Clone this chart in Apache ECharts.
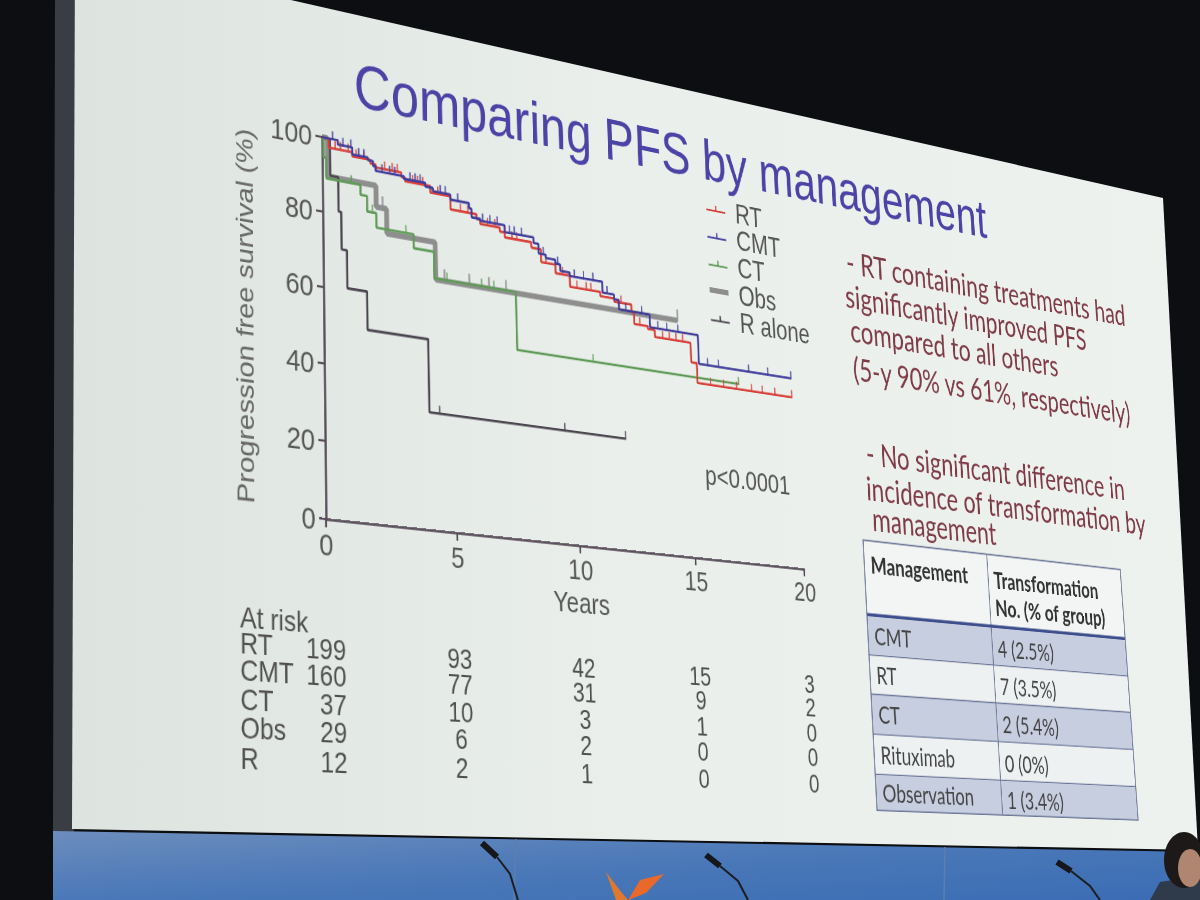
<!DOCTYPE html>
<html>
<head>
<meta charset="utf-8">
<title>Comparing PFS by management</title>
<script src="https://cdn.jsdelivr.net/npm/echarts@6/dist/echarts.min.js"></script>
<style>
  html, body { margin: 0; padding: 0; width: 1200px; height: 900px; overflow: hidden; background: #0c0e12; }
  #bg { position: absolute; left: 0; top: 0; width: 1200px; height: 900px; }
  #slide { position: absolute; left: 0; top: 0; width: 1600px; height: 900px; transform-origin: 0 0; }
</style>
</head>
<body>
<div id="bg"></div>
<div id="slide"></div>
<script>
// ---- data (years, % progression free) ----
var rtTime = [0, 0.25, 1.15, 1.85, 2.05, 3.05, 3.2, 4.2, 5.0, 6.05, 6.2, 7.0, 7.2, 8.3, 8.7, 9.3, 9.9, 11.2, 11.8, 12.55, 12.65, 13.25, 13.55, 15.15, 15.4, 19.8];
var rtSurv = [100, 97.5, 96.4, 95.4, 94.6, 93.4, 92.4, 90.6, 87.0, 85.7, 84.5, 83.4, 82.0, 80.5, 76.9, 74.5, 71.4, 70.2, 69.3, 67.1, 63.9, 63.1, 61.1, 55.5, 49.8, 49.8];
var rtCens = [0.5, 0.7, 1.0, 1.3, 1.6, 2.4, 2.7, 2.9, 3.5, 3.7, 3.9, 4.5, 5.4, 5.7, 6.5, 6.8, 7.5, 7.7, 8.9, 9.6, 10.2, 10.6, 10.8, 12.1, 12.9, 13.9, 14.2, 14.5, 14.8, 16.0, 16.6, 17.2, 17.9, 18.4, 19.0, 19.8];

var cmtTime = [0, 0.6, 1.15, 1.75, 1.95, 2.05, 3.15, 4.0, 4.3, 5.0, 5.75, 5.85, 6.2, 7.2, 8.4, 8.6, 8.9, 9.3, 9.5, 9.9, 11.3, 11.8, 12.0, 13.35, 15.5, 19.8];
var cmtSurv = [100, 98.8, 96.9, 96.2, 94.9, 93.7, 93.0, 92.0, 91.1, 89.7, 88.3, 85.9, 85.4, 83.5, 81.9, 79.2, 78.3, 77.2, 75.4, 74.4, 71.3, 70.0, 67.3, 63.7, 55.4, 55.4];
var cmtCens = [0.4, 0.8, 1.1, 1.4, 1.6, 2.3, 2.6, 2.8, 3.4, 3.6, 3.8, 4.6, 4.8, 5.3, 6.3, 6.6, 6.9, 7.4, 7.6, 7.9, 8.8, 9.4, 10.1, 10.5, 10.9, 11.5, 12.3, 13.0, 13.7, 14.1, 14.6, 15.9, 16.4, 17.8, 18.7, 19.8];

var ctTime = [0, 0.05, 0.15, 1.45, 1.7, 2.05, 3.5, 4.3, 7.6, 17.3];
var ctSurv = [100, 94.6, 89.1, 86.4, 82.2, 78.3, 74.5, 67.3, 51.3, 51.3];
var ctCens = [1.1, 1.9, 3.2, 4.8, 6.2, 6.7, 10.8, 17.3];

var obsTime = [0, 0.2, 2.05, 2.45, 4.35, 14.6];
var obsSurv = [100, 89.7, 83.9, 77.2, 67.0, 67.0];
var obsCens = [2.3, 4.7, 5.7, 6.5, 7.2, 14.6];

var rTime = [0, 0.3, 0.6, 0.7, 0.9, 1.65, 4.0, 12.1];
var rSurv = [100, 90, 80.8, 70.8, 60.7, 50.5, 31.0, 31.0];
var rCens = [4.4, 9.5, 12.1];

var riskYears = [0, 5, 10, 15, 20];
var riskLabels = ['RT', 'CMT', 'CT', 'Obs', 'R'];
var riskRT = [199, 93, 42, 15, 3];
var riskCMT = [160, 77, 31, 9, 2];
var riskCT = [37, 10, 3, 1, 0];
var riskObs = [29, 6, 2, 0, 0];
var riskR = [12, 2, 1, 0, 0];

var notes = ['- RT containing treatments had', 'significantly improved PFS', 'compared to all others',
  '(5-y 90% vs 61%, respectively)', '- No significant difference in', 'incidence of transformation by', 'management'];
var tableMgmt = ['CMT', 'RT', 'CT', 'Rituximab', 'Observation'];
var tableTrans = ['4 (2.5%)', '7 (3.5%)', '2 (5.4%)', '0 (0%)', '1 (3.4%)'];

// ---- perspective of the photographed screen ----
function homography(src, dst) {
  var A = [], b = [];
  for (var i = 0; i < 4; i++) {
    var x = src[i][0], y = src[i][1], X = dst[i][0], Y = dst[i][1];
    A.push([x, y, 1, 0, 0, 0, -x * X, -y * X]); b.push(X);
    A.push([0, 0, 0, x, y, 1, -x * Y, -y * Y]); b.push(Y);
  }
  for (var c = 0; c < 8; c++) {
    var p = c;
    for (var r = c + 1; r < 8; r++) if (Math.abs(A[r][c]) > Math.abs(A[p][c])) p = r;
    var t = A[c]; A[c] = A[p]; A[p] = t; t = b[c]; b[c] = b[p]; b[p] = t;
    for (r = c + 1; r < 8; r++) {
      var f = A[r][c] / A[c][c];
      for (var k = c; k < 8; k++) A[r][k] -= f * A[c][k];
      b[r] -= f * b[c];
    }
  }
  var h = [];
  for (r = 7; r >= 0; r--) {
    var s = b[r];
    for (k = r + 1; k < 8; k++) s -= A[r][k] * h[k];
    h[r] = s / A[r][r];
  }
  return [[h[0], h[1], h[2]], [h[3], h[4], h[5]], [h[6], h[7], 1]];
}
function inv3(m) {
  var a = m[0][0], b = m[0][1], c = m[0][2], d = m[1][0], e = m[1][1], f = m[1][2], g = m[2][0], h = m[2][1], i = m[2][2];
  var A = e * i - f * h, B = -(d * i - f * g), C = d * h - e * g;
  var det = a * A + b * B + c * C;
  return [[A / det, -(b * i - c * h) / det, (b * f - c * e) / det],
          [B / det, (a * i - c * g) / det, -(a * f - c * d) / det],
          [C / det, -(a * h - b * g) / det, (a * e - b * d) / det]];
}
function mul(M, x, y) {
  var w = M[2][0] * x + M[2][1] * y + M[2][2];
  return [(M[0][0] * x + M[0][1] * y + M[0][2]) / w, (M[1][0] * x + M[1][1] * y + M[1][2]) / w];
}

var grid = { left: 300, top: 130, width: 640, height: 380 };
var flatPlot = [[300, 130], [940, 130], [940, 510], [300, 510]];
var photoPlot = [[322, 137], [788, 230], [804, 569], [326, 519]];
var H = homography(flatPlot, photoPlot);
var slideEl = document.getElementById('slide');
slideEl.style.transform = 'matrix3d(' + [H[0][0], H[1][0], 0, H[2][0], H[0][1], H[1][1], 0, H[2][1],
  0, 0, 1, 0, H[0][2], H[1][2], 0, H[2][2]].join(',') + ')';
var Hi = inv3(H);
function F(X, Y) { return mul(Hi, X, Y); }

// ---- room behind the screen ----
var bg = echarts.init(document.getElementById('bg'), null, { renderer: 'svg' });
var LG = echarts.graphic.LinearGradient;
bg.setOption({
  animation: false,
  graphic: [
    { type: 'rect', shape: { x: 0, y: 0, width: 1200, height: 900 }, style: { fill: '#0c0e12' } },
    { type: 'polygon', shape: { points: [[55, 0], [76, 0], [74, 832], [53, 832]] }, style: { fill: '#3a3e44' } },
    { type: 'polygon', shape: { points: [[53, 831], [1200, 852], [1200, 900], [53, 900]] },
      style: { fill: new LG(0, 0, 1, 1, [{ offset: 0, color: '#6c8dbd' }, { offset: 0.5, color: '#4a78b8' }, { offset: 1, color: '#3b6cb4' }]) } },
    { type: 'line', shape: { x1: 516, y1: 839, x2: 514, y2: 900 }, style: { stroke: '#5d7fae', lineWidth: 1.5 } },
    { type: 'line', shape: { x1: 945, y1: 847, x2: 944, y2: 900 }, style: { stroke: '#5d7fae', lineWidth: 1.5 } },
    { type: 'polygon', shape: { points: [[75, -49], [1163, 198], [1198, 850], [72, 829]] },
      style: { fill: new LG(0, 0, 1, 0, [{ offset: 0, color: '#dde3df' }, { offset: 0.5, color: '#eaefeb' }, { offset: 1, color: '#eef2ef' }]) } },
    { type: 'polyline', shape: { points: [[482, 843], [497, 857]] }, style: { stroke: '#15171b', lineWidth: 6 } },
    { type: 'polyline', shape: { points: [[497, 857], [510, 874], [518, 900]] }, style: { stroke: '#1c1e22', lineWidth: 2, fill: null } },
    { type: 'polyline', shape: { points: [[706, 855], [720, 866]] }, style: { stroke: '#15171b', lineWidth: 6 } },
    { type: 'polyline', shape: { points: [[720, 866], [738, 881], [748, 900]] }, style: { stroke: '#1c1e22', lineWidth: 2, fill: null } },
    { type: 'polyline', shape: { points: [[1057, 862], [1071, 871]] }, style: { stroke: '#15171b', lineWidth: 6 } },
    { type: 'polyline', shape: { points: [[1071, 871], [1090, 886], [1100, 900]] }, style: { stroke: '#1c1e22', lineWidth: 2, fill: null } },
    { type: 'polygon', shape: { points: [[606, 872], [622, 893], [628, 900], [616, 900]] }, style: { fill: '#e0782e' } },
    { type: 'polygon', shape: { points: [[628, 900], [640, 880], [664, 874], [646, 893]] }, style: { fill: '#e8692a' } },
    { type: 'polygon', shape: { points: [[1150, 900], [1160, 882], [1200, 876], [1200, 900]] }, style: { fill: '#2f3a4a' } },
    { type: 'ellipse', shape: { cx: 1184, cy: 860, rx: 20, ry: 28 }, style: { fill: '#1d1919' } },
    { type: 'ellipse', shape: { cx: 1190, cy: 868, rx: 12, ry: 19 }, style: { fill: '#b08670' } }
  ]
});

// ---- the slide itself, drawn flat and tilted by the css transform ----
var chart = echarts.init(slideEl, null, { renderer: 'svg' });
var fontAx = '"Liberation Sans", Arial, sans-serif';
var fontTx = 'Lato, "Open Sans", sans-serif';
var axisColor = '#564b57';
var colors = { RT: '#d8413b', CMT: '#403d9b', CT: '#5f9b57', Obs: '#8e8e8e', R: '#4c4650' };

function survAt(T, S, t) {
  var v = S[0];
  for (var i = 0; i < T.length; i++) if (T[i] <= t) v = S[i];
  return v;
}
function stepSeries(name, T, S, color, width, z) {
  return {
    name: name, type: 'line', step: 'end', showSymbol: false, symbol: 'none', z: z, silent: true,
    data: T.map(function (t, i) { return [t, S[i]]; }),
    lineStyle: { color: color, width: width }, itemStyle: { color: color }
  };
}
function censorSeries(name, T, S, C, color, size, z) {
  return {
    name: name, type: 'scatter', symbol: 'rect', symbolSize: size, symbolOffset: [0, -size[1] / 2 + 1], z: z, silent: true,
    data: C.map(function (t) { return [t, survAt(T, S, t)]; }), itemStyle: { color: color }
  };
}

var yName = F(245, 299), xName = F(585, 603);
var leg0 = F(703, 209), leg4 = F(703, 326);
var legRow = (leg4[1] - leg0[1]) / 4;
var tickIcon = 'path://M0,5h28v2H0z M13,0h2v6h-2z';

chart.setOption({
  animation: false,
  textStyle: { fontFamily: fontAx },
  grid: { left: grid.left, top: grid.top, width: grid.width, height: grid.height, outerBoundsMode: 'none' },
  xAxis: {
    type: 'value', min: 0, max: 20, interval: 5,
    axisLine: { show: true, lineStyle: { color: axisColor, width: 2.6 } },
    axisTick: { show: true, length: 8, lineStyle: { color: axisColor, width: 2.2 } },
    axisLabel: { fontSize: 30, color: '#575757', margin: 9, fontFamily: fontAx },
    splitLine: { show: false },
    name: 'Years', nameLocation: 'middle', nameGap: xName[1] - 510 - 15,
    nameTextStyle: { fontSize: 30, color: '#575757', fontFamily: fontAx }
  },
  yAxis: {
    type: 'value', min: 0, max: 100, interval: 20,
    axisLine: { show: true, lineStyle: { color: axisColor, width: 2.6 } },
    axisTick: { show: true, length: 8, lineStyle: { color: axisColor, width: 2.2 } },
    axisLabel: { fontSize: 30, color: '#575757', margin: 12, fontFamily: fontAx },
    splitLine: { show: false },
    name: 'Progression free survival (%)', nameLocation: 'middle', nameRotate: 90,
    nameGap: grid.left - yName[0] - 14,
    nameTextStyle: { fontSize: 28.5, color: '#666', fontFamily: fontAx }
  },
  legend: {
    orient: 'vertical', left: leg0[0], top: leg0[1] - 24, itemGap: legRow - 34,
    itemWidth: 28, itemHeight: 7, selectedMode: false,
    data: [
      { name: 'RT', icon: tickIcon }, { name: 'CMT', icon: tickIcon }, { name: 'CT', icon: tickIcon },
      { name: 'Obs', icon: 'path://M0,0h28v6H0z' }, { name: 'R alone', icon: tickIcon }
    ],
    textStyle: { fontSize: 31, lineHeight: 32, color: '#555', fontFamily: fontAx, padding: [0, 0, 0, 10] }
  },
  series: [
    stepSeries('Obs', obsTime, obsSurv, colors.Obs, 6, 2),
    stepSeries('R alone', rTime, rSurv, colors.R, 2.6, 3),
    stepSeries('CT', ctTime, ctSurv, colors.CT, 2.6, 4),
    stepSeries('RT', rtTime, rtSurv, colors.RT, 2.6, 5),
    stepSeries('CMT', cmtTime, cmtSurv, colors.CMT, 2.6, 6),
    censorSeries('Obs', obsTime, obsSurv, obsCens, colors.Obs, [2.4, 13], 2),
    censorSeries('R alone', rTime, rSurv, rCens, colors.R, [2, 9], 3),
    censorSeries('CT', ctTime, ctSurv, ctCens, colors.CT, [2, 9], 4),
    censorSeries('RT', rtTime, rtSurv, rtCens, colors.RT, [2, 9], 5),
    censorSeries('CMT', cmtTime, cmtSurv, cmtCens, colors.CMT, [2, 9], 6)
  ]
});

// ---- texts and tables on the slide ----
var g = [];
function txt(p, text, size, color, extra) {
  var st = { text: text, fontSize: size, fontFamily: fontAx, fill: color, align: 'left', verticalAlign: 'middle' };
  for (var k in extra) st[k] = extra[k];
  g.push({ type: 'text', x: p[0], y: p[1], silent: true, z: 10, style: st });
}

txt(F(354, 85), 'Comparing PFS by management', 64, '#4b43a6');
txt(F(705, 474), 'p<0.0001', 30, '#555');

var noteAnchors = [[846, 261], [845, 295], [850, 330], [853, 368], [866, 453], [866, 488], [872, 519]];
notes.forEach(function (s, i) {
  txt(F(noteAnchors[i][0], noteAnchors[i][1]), s, 36, '#7e3a45', { fontFamily: fontTx });
});

// at-risk table
var riskRows = [riskRT, riskCMT, riskCT, riskObs, riskR];
var riskPhotoY = [643, 670, 699, 728, 758];
var labX = F(240, 617)[0];
txt(F(240, 617), 'At risk', 28, '#505050');
var col0 = F(346, 643)[0];
riskRows.forEach(function (row, r) {
  var y = F(240, riskPhotoY[r])[1];
  txt([labX, y], riskLabels[r], 28, '#505050');
  row.forEach(function (v, c) {
    if (c === 0) {
      txt([col0, y], String(v), 28, '#505050', { align: 'right' });
    } else {
      var x = chart.convertToPixel({ xAxisIndex: 0 }, riskYears[c]);
      txt([x, y], String(v), 28, '#505050', { align: 'center' });
    }
  });
});

// transformation table
var tl = F(863, 540), br = F(1138, 820);
var colX = F(987, 560)[0];
var rowPhoto = [540, 615, 655, 694, 734, 774, 815];
var rowY = rowPhoto.map(function (y) { return F(872, y)[1]; });
rowY[0] = tl[1];
rowY[6] = br[1];
var rowFill = ['#f3f5f4', '#c6cee0', '#eef1f2', '#c6cee0', '#eef1f2', '#c6cee0'];
for (var r = 0; r < 6; r++) {
  g.push({ type: 'rect', silent: true, z: 5, shape: { x: tl[0], y: rowY[r], width: br[0] - tl[0], height: rowY[r + 1] - rowY[r] },
    style: { fill: rowFill[r] } });
}
for (r = 2; r < 6; r++) {
  g.push({ type: 'line', silent: true, z: 6, shape: { x1: tl[0], y1: rowY[r], x2: br[0], y2: rowY[r] },
    style: { stroke: '#6b7696', lineWidth: 1.4 } });
}
g.push({ type: 'line', silent: true, z: 7, shape: { x1: tl[0], y1: rowY[1], x2: br[0], y2: rowY[1] },
  style: { stroke: '#3f4f8d', lineWidth: 3.5 } });
g.push({ type: 'line', silent: true, z: 6, shape: { x1: colX, y1: tl[1], x2: colX, y2: br[1] },
  style: { stroke: '#6b7696', lineWidth: 1.4 } });
g.push({ type: 'rect', silent: true, z: 7, shape: { x: tl[0], y: tl[1], width: br[0] - tl[0], height: br[1] - tl[1] },
  style: { fill: null, stroke: '#6b7696', lineWidth: 1.6 } });

txt([tl[0] + 10, F(872, 564)[1]], 'Management', 27, '#333', { fontFamily: fontTx, fontWeight: 'bold' });
txt([colX + 9, F(992, 579)[1]], 'Transformation', 27, '#333', { fontFamily: fontTx, fontWeight: 'bold' });
txt([colX + 9, F(992, 607)[1]], 'No. (% of group)', 27, '#333', { fontFamily: fontTx, fontWeight: 'bold' });
tableMgmt.forEach(function (m, i) {
  var y = (rowY[i + 1] + rowY[i + 2]) / 2;
  txt([tl[0] + 10, y], m, 27, '#444', { fontFamily: fontTx });
  txt([colX + 9, y + 2], tableTrans[i], 27, '#444', { fontFamily: fontTx });
});

chart.setOption({ graphic: g });
</script>
</body>
</html>
